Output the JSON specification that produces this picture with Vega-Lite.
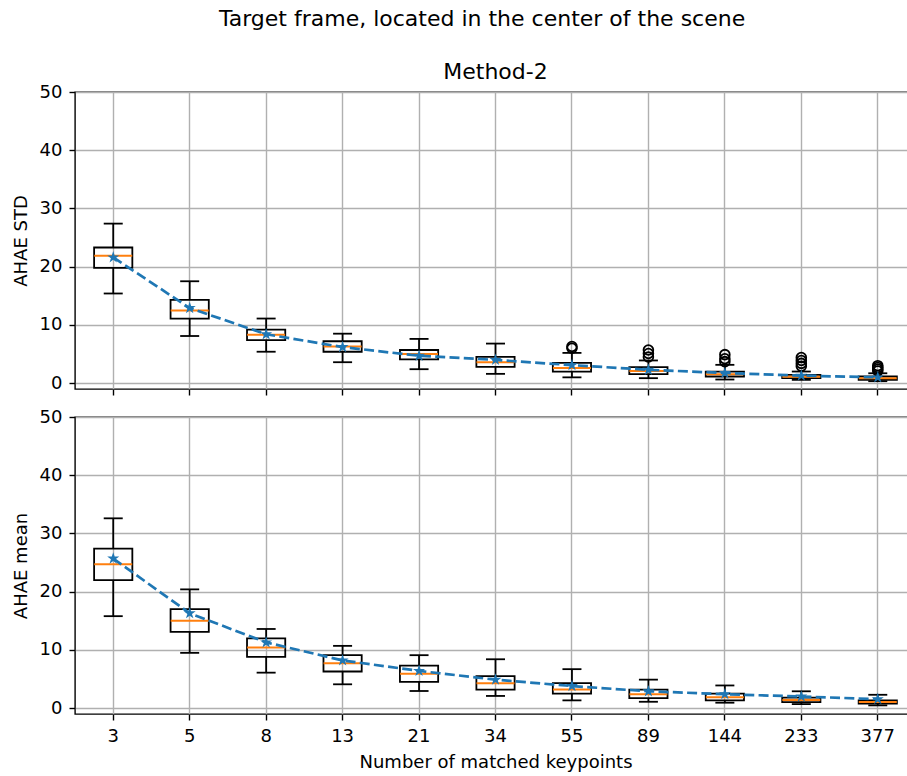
{
  "$schema": "https://vega.github.io/schema/vega-lite/v6.json",
  "padding": {"left": 11, "top": 8, "right": 0, "bottom": 0},
  "background": "white",
  "title": {"text": "Target frame, located in the center of the scene", "fontSize": 22, "font": "DejaVu Sans", "fontWeight": "normal", "color": "black", "anchor": "middle", "dx": 18, "offset": 29},
  "bounds": "flush",
  "spacing": 28,
  "datasets": {
    "std": [
      {"k": "3", "lo": 15.4, "q1": 19.8, "med": 21.9, "q3": 23.3, "hi": 27.4, "mean": 21.6},
      {"k": "5", "lo": 8.1, "q1": 11.1, "med": 12.5, "q3": 14.3, "hi": 17.5, "mean": 12.9},
      {"k": "8", "lo": 5.4, "q1": 7.4, "med": 8.3, "q3": 9.2, "hi": 11.1, "mean": 8.4},
      {"k": "13", "lo": 3.6, "q1": 5.4, "med": 6.3, "q3": 7.2, "hi": 8.5, "mean": 6.2},
      {"k": "21", "lo": 2.4, "q1": 4.1, "med": 5.0, "q3": 5.7, "hi": 7.6, "mean": 4.7},
      {"k": "34", "lo": 1.6, "q1": 2.8, "med": 3.6, "q3": 4.5, "hi": 6.8, "mean": 4.0},
      {"k": "55", "lo": 1.0, "q1": 2.0, "med": 2.6, "q3": 3.5, "hi": 5.2, "mean": 3.1},
      {"k": "89", "lo": 0.86, "q1": 1.55, "med": 2.1, "q3": 2.75, "hi": 3.9, "mean": 2.3},
      {"k": "144", "lo": 0.63, "q1": 1.15, "med": 1.55, "q3": 2.0, "hi": 3.15, "mean": 1.75},
      {"k": "233", "lo": 0.57, "q1": 0.86, "med": 1.09, "q3": 1.43, "hi": 2.0, "mean": 1.3},
      {"k": "377", "lo": 0.34, "q1": 0.57, "med": 0.86, "q3": 1.15, "hi": 1.7, "mean": 1.0}
    ],
    "std_out": [
      {"k": "55", "v": 6.3},
      {"k": "55", "v": 6.0},
      {"k": "89", "v": 5.7},
      {"k": "89", "v": 5.1},
      {"k": "89", "v": 4.5},
      {"k": "144", "v": 4.9},
      {"k": "144", "v": 4.2},
      {"k": "144", "v": 3.7},
      {"k": "233", "v": 4.4},
      {"k": "233", "v": 3.9},
      {"k": "233", "v": 3.4},
      {"k": "233", "v": 2.9},
      {"k": "377", "v": 3.0},
      {"k": "377", "v": 2.7},
      {"k": "377", "v": 2.4},
      {"k": "377", "v": 2.1}
    ],
    "avg": [
      {"k": "3", "lo": 15.8, "q1": 22.0, "med": 24.7, "q3": 27.4, "hi": 32.6, "mean": 25.7},
      {"k": "5", "lo": 9.5, "q1": 13.1, "med": 15.0, "q3": 17.0, "hi": 20.4, "mean": 16.3},
      {"k": "8", "lo": 6.1, "q1": 8.8, "med": 10.4, "q3": 12.0, "hi": 13.6, "mean": 11.3},
      {"k": "13", "lo": 4.1, "q1": 6.3, "med": 7.7, "q3": 9.1, "hi": 10.7, "mean": 8.2},
      {"k": "21", "lo": 2.95, "q1": 4.5, "med": 5.9, "q3": 7.3, "hi": 9.1, "mean": 6.4},
      {"k": "34", "lo": 2.1, "q1": 3.2, "med": 4.3, "q3": 5.5, "hi": 8.4, "mean": 4.9},
      {"k": "55", "lo": 1.34, "q1": 2.5, "med": 3.2, "q3": 4.3, "hi": 6.7, "mean": 3.8},
      {"k": "89", "lo": 1.1, "q1": 1.74, "med": 2.37, "q3": 3.2, "hi": 4.9, "mean": 2.9},
      {"k": "144", "lo": 0.94, "q1": 1.34, "med": 1.86, "q3": 2.5, "hi": 3.9, "mean": 2.4},
      {"k": "233", "lo": 0.7, "q1": 1.05, "med": 1.4, "q3": 1.8, "hi": 2.9, "mean": 2.0},
      {"k": "377", "lo": 0.48, "q1": 0.77, "med": 1.05, "q3": 1.34, "hi": 2.3, "mean": 1.55}
    ]
  },
  "vconcat": [
    {
      "width": 841,
      "height": 297,
      "title": {"text": "Method-2", "fontSize": 22, "font": "DejaVu Sans", "fontWeight": "normal", "color": "black", "offset": -1},
      "layer": [
        {
          "data": {"name": "std"},
          "mark": {"type": "rule", "color": "black", "strokeWidth": 1.8},
          "encoding": {
            "x": {"field": "k", "type": "ordinal", "scale": {"domain": ["3","5","8","13","21","34","55","89","144","233","377"], "paddingInner": 0, "paddingOuter": 0}, "axis": {"labels": false, "title": null}},
            "y": {"field": "lo", "type": "quantitative", "scale": {"domain": [-1, 50], "nice": false, "zero": false}, "axis": {"values": [0,10,20,30,40,50], "title": "AHAE STD"}},
            "y2": {"field": "q1"}
          }
        },
        {
          "data": {"name": "std"},
          "mark": {"type": "rule", "color": "black", "strokeWidth": 1.8},
          "encoding": {"x": {"field": "k", "type": "ordinal"}, "y": {"field": "q3", "type": "quantitative"}, "y2": {"field": "hi"}}
        },
        {
          "data": {"name": "std"},
          "mark": {"type": "tick", "color": "black", "size": 19, "thickness": 1.8, "opacity": 1},
          "encoding": {"x": {"field": "k", "type": "ordinal"}, "y": {"field": "lo", "type": "quantitative"}}
        },
        {
          "data": {"name": "std"},
          "mark": {"type": "tick", "color": "black", "size": 19, "thickness": 1.8, "opacity": 1},
          "encoding": {"x": {"field": "k", "type": "ordinal"}, "y": {"field": "hi", "type": "quantitative"}}
        },
        {
          "data": {"name": "std"},
          "mark": {"type": "bar", "filled": false, "color": "black", "strokeWidth": 1.8, "width": {"band": 0.5}},
          "encoding": {"x": {"field": "k", "type": "ordinal"}, "y": {"field": "q1", "type": "quantitative"}, "y2": {"field": "q3"}}
        },
        {
          "data": {"name": "std"},
          "mark": {"type": "tick", "color": "#ff7f0e", "size": 38, "thickness": 2, "opacity": 1},
          "encoding": {"x": {"field": "k", "type": "ordinal"}, "y": {"field": "med", "type": "quantitative"}}
        },
        {
          "data": {"name": "std_out"},
          "mark": {"type": "point", "shape": "circle", "filled": false, "color": "black", "size": 95, "strokeWidth": 1.8, "opacity": 1},
          "encoding": {"x": {"field": "k", "type": "ordinal"}, "y": {"field": "v", "type": "quantitative"}}
        },
        {
          "data": {"name": "std"},
          "mark": {"type": "line", "color": "#1f77b4", "strokeWidth": 2.7, "strokeDash": [10, 4.3]},
          "encoding": {"x": {"field": "k", "type": "ordinal"}, "y": {"field": "mean", "type": "quantitative"}}
        },
        {
          "data": {"name": "std"},
          "mark": {"type": "point", "shape": "M0,-1L0.2245,-0.309L0.9511,-0.309L0.3633,0.118L0.5878,0.809L0,0.382L-0.5878,0.809L-0.3633,0.118L-0.9511,-0.309L-0.2245,-0.309Z", "filled": true, "color": "#1f77b4", "size": 160, "opacity": 1},
          "encoding": {"x": {"field": "k", "type": "ordinal"}, "y": {"field": "mean", "type": "quantitative"}}
        }
      ]
    },
    {
      "width": 841,
      "height": 297,
      "layer": [
        {
          "data": {"name": "avg"},
          "mark": {"type": "rule", "color": "black", "strokeWidth": 1.8},
          "encoding": {
            "x": {"field": "k", "type": "ordinal", "scale": {"domain": ["3","5","8","13","21","34","55","89","144","233","377"], "paddingInner": 0, "paddingOuter": 0}, "axis": {"title": "Number of matched keypoints", "labelAngle": 0}},
            "y": {"field": "lo", "type": "quantitative", "scale": {"domain": [-1, 50], "nice": false, "zero": false}, "axis": {"values": [0,10,20,30,40,50], "title": "AHAE mean"}},
            "y2": {"field": "q1"}
          }
        },
        {
          "data": {"name": "avg"},
          "mark": {"type": "rule", "color": "black", "strokeWidth": 1.8},
          "encoding": {"x": {"field": "k", "type": "ordinal"}, "y": {"field": "q3", "type": "quantitative"}, "y2": {"field": "hi"}}
        },
        {
          "data": {"name": "avg"},
          "mark": {"type": "tick", "color": "black", "size": 19, "thickness": 1.8, "opacity": 1},
          "encoding": {"x": {"field": "k", "type": "ordinal"}, "y": {"field": "lo", "type": "quantitative"}}
        },
        {
          "data": {"name": "avg"},
          "mark": {"type": "tick", "color": "black", "size": 19, "thickness": 1.8, "opacity": 1},
          "encoding": {"x": {"field": "k", "type": "ordinal"}, "y": {"field": "hi", "type": "quantitative"}}
        },
        {
          "data": {"name": "avg"},
          "mark": {"type": "bar", "filled": false, "color": "black", "strokeWidth": 1.8, "width": {"band": 0.5}},
          "encoding": {"x": {"field": "k", "type": "ordinal"}, "y": {"field": "q1", "type": "quantitative"}, "y2": {"field": "q3"}}
        },
        {
          "data": {"name": "avg"},
          "mark": {"type": "tick", "color": "#ff7f0e", "size": 38, "thickness": 2, "opacity": 1},
          "encoding": {"x": {"field": "k", "type": "ordinal"}, "y": {"field": "med", "type": "quantitative"}}
        },
        {
          "data": {"name": "avg"},
          "mark": {"type": "line", "color": "#1f77b4", "strokeWidth": 2.7, "strokeDash": [10, 4.3]},
          "encoding": {"x": {"field": "k", "type": "ordinal"}, "y": {"field": "mean", "type": "quantitative"}}
        },
        {
          "data": {"name": "avg"},
          "mark": {"type": "point", "shape": "M0,-1L0.2245,-0.309L0.9511,-0.309L0.3633,0.118L0.5878,0.809L0,0.382L-0.5878,0.809L-0.3633,0.118L-0.9511,-0.309L-0.2245,-0.309Z", "filled": true, "color": "#1f77b4", "size": 160, "opacity": 1},
          "encoding": {"x": {"field": "k", "type": "ordinal"}, "y": {"field": "mean", "type": "quantitative"}}
        }
      ]
    }
  ],
  "config": {
    "font": "DejaVu Sans",
    "view": {"stroke": "black", "strokeWidth": 1.4},
    "axis": {
      "domain": false,
      "grid": true,
      "gridColor": "#b0b0b0",
      "gridWidth": 1.4,
      "gridOpacity": 1,
      "ticks": true,
      "tickColor": "black",
      "tickWidth": 1.4,
      "tickSize": 6,
      "bandPosition": 0.5,
      "labelFont": "DejaVu Sans",
      "labelFontSize": 18,
      "labelColor": "black",
      "labelPadding": 7,
      "titleFont": "DejaVu Sans",
      "titleFontSize": 18,
      "titleFontWeight": "normal",
      "titleColor": "black",
      "titlePadding": 9
    },
    "axisX": {"labelPadding": 7, "titlePadding": 8}
  }
}
